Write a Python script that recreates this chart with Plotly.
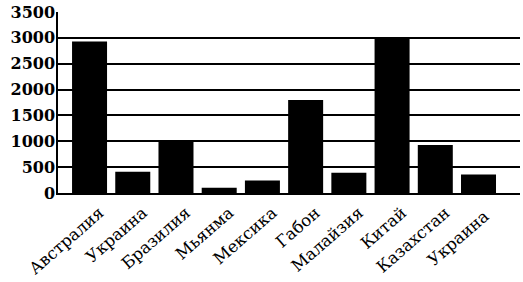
import plotly.graph_objects as go

countries = ["Австралия", "Украина", "Бразилия", "Мьянма", "Мексика",
             "Габон", "Малайзия", "Китай", "Казахстан", "Украина "]
values = [2930, 410, 1000, 100, 240, 1800, 390, 3000, 930, 360]
y_ticks = [0, 500, 1000, 1500, 2000, 2500, 3000, 3500]

fig = go.Figure(go.Bar(
    x=list(range(len(countries))), y=values,
    marker=dict(color="black", line=dict(width=0)),
    width=0.81,
))

fig.update_layout(
    width=523, height=282,
    margin=dict(l=58, r=3, t=12, b=89),
    plot_bgcolor="white", paper_bgcolor="white",
    showlegend=False,
)
fig.update_xaxes(
    tickmode="array", tickvals=list(range(len(countries))), ticktext=countries,
    tickangle=-41, range=[-0.73, 9.96],
    tickfont=dict(family="DejaVu Serif", size=16.5, color="black"),
    ticklabelshift=10, ticklabelstandoff=2,
    showline=True, linecolor="black", linewidth=1.5,
    showgrid=False, ticks="", ticklen=0,
)
fig.update_yaxes(
    range=[0, 3500], tickvals=y_ticks,
    tickfont=dict(family="DejaVu Serif", size=16, color="black", weight="bold"),
    ticklabelstandoff=-2,
    showgrid=True, gridcolor="black", gridwidth=1.6,
    showline=True, linecolor="black", linewidth=1.5,
    zeroline=False, ticks="", ticklen=0,
)

fig.write_html("out.html")
